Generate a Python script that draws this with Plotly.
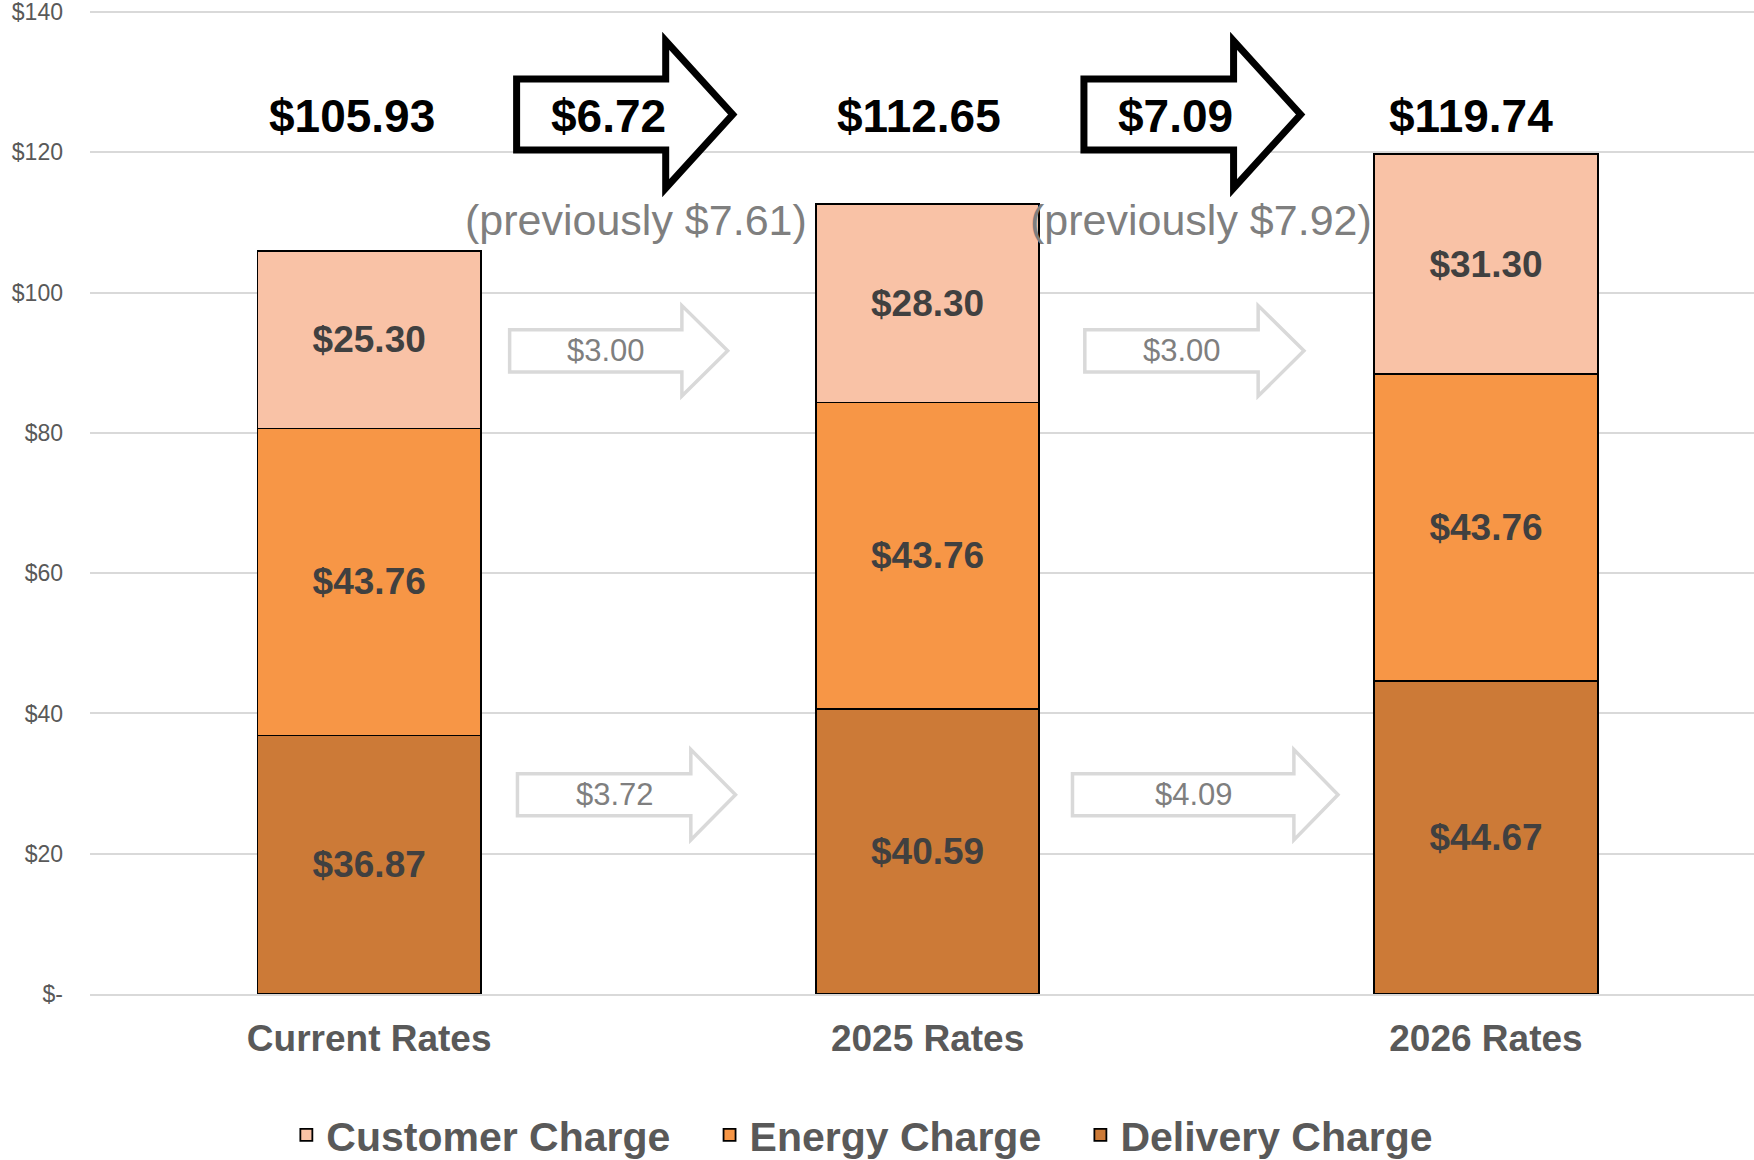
import plotly.graph_objects as go

# rate components per bill, $
categories = ["Current Rates", "2025 Rates", "2026 Rates"]
delivery = [36.87, 40.59, 44.67]
energy = [43.76, 43.76, 43.76]
customer = [25.30, 28.30, 31.30]
totals = [105.93, 112.65, 119.74]

# step changes between the bars
total_changes = [6.72, 7.09]
previous_changes = [7.61, 7.92]
customer_changes = [3.00, 3.00]
delivery_changes = [3.72, 4.09]

y_ticks = [0, 20, 40, 60, 80, 100, 120, 140]
y_tick_text = ["$-", "$20", "$40", "$60", "$80", "$100", "$120", "$140"]

FONT = "Liberation Sans, Arial, sans-serif"
GREY_TEXT = "#595959"
LIGHT_TEXT = "#7F7F7F"
GRID = "#D9D9D9"
NBSP = "\u00a0"


def money(v):
    return f"${v:,.2f}"


def arrow(x0, x_head, x_tip, y_mid, body_half, head_half, color, width):
    path = (
        f"M{x0},{y_mid - body_half} L{x0},{y_mid + body_half} "
        f"L{x_head},{y_mid + body_half} L{x_head},{y_mid + head_half} "
        f"L{x_tip},{y_mid} L{x_head},{y_mid - head_half} "
        f"L{x_head},{y_mid - body_half} Z"
    )
    return dict(
        type="path", path=path, xref="x", yref="y", layer="above",
        fillcolor="white", line=dict(color=color, width=width),
    )


def label(x, y, text, size, color, bold=False):
    return dict(
        x=x, y=y, xref="x", yref="y", text=text, showarrow=False,
        xanchor="center", yanchor="middle",
        font=dict(family=FONT, size=size, color=color,
                  weight="bold" if bold else "normal"),
    )


x_pos = list(range(len(categories)))
series = [
    ("Delivery Charge", delivery, "#CC7A37"),
    ("Energy Charge" + NBSP * 3, energy, "#F79646"),
    ("Customer Charge" + NBSP * 3, customer, "#F9C2A6"),
]

fig = go.Figure()
for name, values, color in series:
    fig.add_trace(go.Bar(
        x=x_pos, y=values, name=name, width=0.4,
        marker=dict(color=color, line=dict(color="black", width=1.8)),
        text=[money(v) for v in values], textposition="inside",
        insidetextanchor="middle", textangle=0,
        textfont=dict(family=FONT, size=37, color="#404040", weight="bold"),
        hoverinfo="skip",
    ))

shapes = []
annotations = []

# totals above each bar
total_shift = [-0.031, -0.015, -0.027]
for i, (t, dx) in enumerate(zip(totals, total_shift)):
    annotations.append(label(i + dx, 125.2, money(t), 46, "black", bold=True))

# big black arrows with the total change
big_x = [(0.264, 0.531, 0.651), (1.280, 1.548, 1.668)]
big_text_x = [0.428, 1.444]
prev_x = [0.477, 1.490]
for (x0, xh, xt), tx, px, chg, prev in zip(big_x, big_text_x, prev_x,
                                           total_changes, previous_changes):
    shapes.append(arrow(x0, xh, xt, 125.4, 5.05, 10.5, "black", 7))
    annotations.append(label(tx, 125.2, money(chg), 46, "black", bold=True))
    annotations.append(label(px, 110.4, f"(previously {money(prev)})", 43, LIGHT_TEXT))

# grey arrows for the customer and delivery steps
cust_x = [(0.2515, 0.560, 0.642), (1.2816, 1.592, 1.674)]
cust_text_x = [0.424, 1.456]
for (x0, xh, xt), tx, chg in zip(cust_x, cust_text_x, customer_changes):
    shapes.append(arrow(x0, xh, xt, 91.7, 3.0, 6.45, GRID, 3.5))
    annotations.append(label(tx, 91.7, money(chg), 31, LIGHT_TEXT))

del_x = [(0.2655, 0.576, 0.656), (1.2595, 1.656, 1.735)]
del_text_x = [0.440, 1.478]
for (x0, xh, xt), tx, chg in zip(del_x, del_text_x, delivery_changes):
    shapes.append(arrow(x0, xh, xt, 28.4, 3.0, 6.45, GRID, 3.5))
    annotations.append(label(tx, 28.4, money(chg), 31, LIGHT_TEXT))

fig.update_layout(
    width=1754,
    height=1160,
    autosize=False,
    barmode="stack",
    margin=dict(l=90, r=0, t=10, b=166, pad=0, autoexpand=False),
    paper_bgcolor="white",
    plot_bgcolor="white",
    font=dict(family=FONT, color=GREY_TEXT),
    shapes=shapes,
    annotations=annotations,
    legend=dict(
        orientation="h",
        x=0.118, xanchor="left",
        y=-0.1436, yanchor="middle",
        traceorder="reversed",
        font=dict(family=FONT, size=41, color=GREY_TEXT, weight="bold"),
        bgcolor="rgba(0,0,0,0)",
    ),
    xaxis=dict(
        range=[-0.5, 2.48],
        tickvals=x_pos,
        ticktext=categories,
        showgrid=False,
        zeroline=False,
        showline=True,
        linecolor=GRID,
        linewidth=2,
        ticks="",
        ticklabelstandoff=11,
        tickfont=dict(family=FONT, size=37, color=GREY_TEXT, weight="bold"),
    ),
    yaxis=dict(
        range=[0, 140.3],
        tickvals=y_ticks,
        ticktext=y_tick_text,
        showgrid=True,
        gridcolor=GRID,
        gridwidth=1.5,
        zeroline=False,
        showline=False,
        ticks="",
        ticklabelstandoff=26,
        ticklabeloverflow="allow",
        tickfont=dict(family=FONT, size=23, color=GREY_TEXT),
    ),
)

fig.write_html(
    "out.html",
    config={"displayModeBar": False},
    post_script="document.body.style.margin='0';",
)
